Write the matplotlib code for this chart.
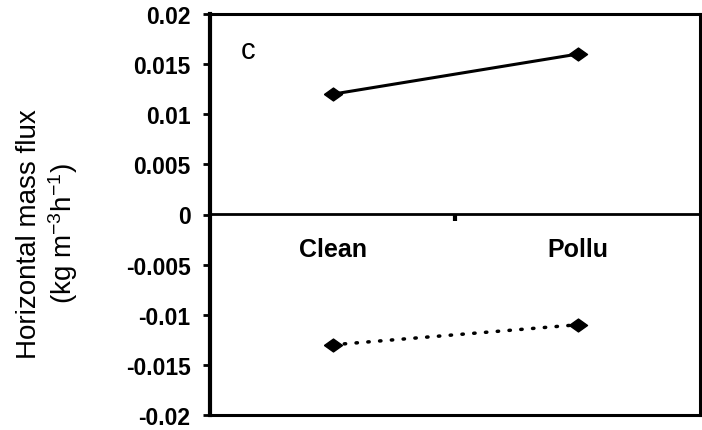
import numpy as np
import matplotlib
matplotlib.use("Agg")
import matplotlib.pyplot as plt
from matplotlib.ticker import FuncFormatter

plt.rcParams['font.family'] = ['Liberation Sans', 'DejaVu Sans']
plt.rcParams['mathtext.fontset'] = 'custom'
plt.rcParams['mathtext.rm'] = 'Liberation Sans'
plt.rcParams['mathtext.it'] = 'Liberation Sans'

categories = ["Clean", "Pollu"]
upper_flux = [0.012, 0.016]
lower_flux = [-0.013, -0.011]
y_ticks = [-0.02, -0.015, -0.01, -0.005, 0, 0.005, 0.01, 0.015, 0.02]
panel_label = "c"

x = np.arange(1, len(categories) + 1)

fig = plt.figure(figsize=(7.02, 4.31), dpi=100)
ax = fig.add_axes([210/702, 15/431, 490/702, 401/431])

diamond = [(-1.4, 0), (0, 1), (1.4, 0), (0, -1), (-1.4, 0)]

ax.plot(x, upper_flux, color="black", lw=2.2, marker=diamond, ms=13)
ax.plot(x, lower_flux, color="black", lw=2.5, ls=(0, (0.4, 3.0)),
        dash_capstyle="round", marker=diamond, ms=13)

ax.set_xlim(0.5, len(categories) + 0.5)
ax.set_ylim(-0.02, 0.02)
ax.set_xticks([])
ax.set_yticks(y_ticks)
ax.yaxis.set_major_formatter(FuncFormatter(lambda v, p: f"{v:g}"))
ax.tick_params(axis="y", direction="out", length=5, width=2, pad=9,
               labelsize=16.5)
for lbl in ax.get_yticklabels():
    lbl.set_fontweight("bold")

ax.spines["left"].set_linewidth(3)
for s in ["top", "right", "bottom"]:
    ax.spines[s].set_linewidth(2.2)

# category axis crossing at zero, tick between the categories
sec = ax.secondary_xaxis(0.5)
sec.set_alignment("bottom")
sec.spines["bottom"].set_linewidth(2)
sec.set_xticks(x[:-1] + 0.5)
sec.set_xticklabels([""] * (len(categories) - 1))
sec.set_xticks(x, minor=True)
sec.set_xticklabels(categories, minor=True, fontsize=18, fontweight="bold")
sec.tick_params(axis="x", which="major", direction="out", length=5, width=3)
sec.tick_params(axis="x", which="minor", length=0, pad=16)

ax.text(0.078, 0.91, panel_label, transform=ax.transAxes, fontsize=21,
        ha="center", va="center")

fig.text(48/702, 1 - 234/431, "Horizontal mass flux\n(kg m$^{-3}$h$^{-1}$)",
         rotation=90, ha="center", va="center", fontsize=20,
         linespacing=1.15)

fig.savefig("out.png", dpi=100)
